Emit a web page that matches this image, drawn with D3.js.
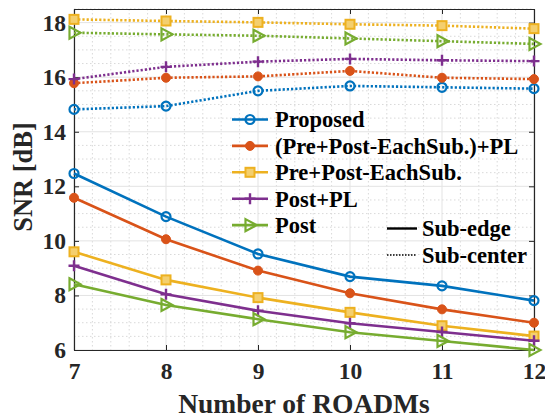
<!DOCTYPE html>
<html>
<head>
<meta charset="utf-8">
<script src="https://cdn.jsdelivr.net/npm/d3@7/dist/d3.min.js"></script>
<style>
  body { margin: 0; background: #fff; }
  svg { display: block; font-family: "Liberation Serif", "Times New Roman", serif; font-weight: bold; }
</style>
</head>
<body>
<svg id="chart"></svg>
<script>
// number of ROADMs
const roadms = [7, 8, 9, 10, 11, 12];
const xTicks = [7, 8, 9, 10, 11, 12];
const yTicks = [6, 8, 10, 12, 14, 16, 18];

const seriesNames = ["Proposed", "(Pre+Post-EachSub.)+PL", "Pre+Post-EachSub.", "Post+PL", "Post"];

// Sub-edge (solid)
const edgeProposed = [12.47, 10.89, 9.52, 8.69, 8.35, 7.81];
const edgePrePostPL = [11.58, 10.06, 8.91, 8.08, 7.49, 7.00];
const edgePrePost = [9.60, 8.57, 7.92, 7.38, 6.89, 6.51];
const edgePostPL = [9.09, 8.04, 7.44, 6.98, 6.66, 6.34];
const edgePost = [8.41, 7.65, 7.13, 6.65, 6.33, 6.00];

// Sub-center (dotted)
const centerProposed = [14.82, 14.94, 15.50, 15.68, 15.63, 15.58];
const centerPrePostPL = [15.78, 15.98, 16.03, 16.23, 15.98, 15.93];
const centerPrePost = [18.12, 18.06, 18.01, 17.94, 17.89, 17.78];
const centerPostPL = [15.93, 16.38, 16.57, 16.67, 16.62, 16.59];
const centerPost = [17.63, 17.57, 17.52, 17.42, 17.32, 17.22];

const colors = ["#0072BD", "#D95319", "#EDB120", "#7E2F8E", "#77AC30"];
const markers = ["circle", "dot", "square", "plus", "triangle"];

const svgWidth = 545, svgHeight = 419;
const margin = { top: 9, right: 11, bottom: 69, left: 74 };
const width = svgWidth - margin.left - margin.right;
const height = svgHeight - margin.top - margin.bottom;

const svg = d3.select("#chart").attr("width", svgWidth).attr("height", svgHeight);
const g = svg.append("g").attr("transform", "translate(" + margin.left + "," + margin.top + ")");

const x = d3.scaleLinear().domain([7, 12]).range([0, width]);
const y = d3.scaleLinear().domain([6, 18.5]).range([height, 0]);

// minor grid
const xMinor = d3.range(7, 12.001, 0.2).filter(v => Math.abs(v - Math.round(v)) > 1e-6);
const yMinor = d3.range(6, 18.501, 0.5).filter(v => Math.abs(v / 2 - Math.round(v / 2)) > 1e-6);
g.append("g").selectAll("line").data(xMinor).join("line")
  .attr("x1", d => x(d)).attr("x2", d => x(d)).attr("y1", 0).attr("y2", height)
  .attr("stroke", "#d9d9d9").attr("stroke-width", 1).attr("stroke-dasharray", "1.5 2.5");
g.append("g").selectAll("line").data(yMinor).join("line")
  .attr("y1", d => y(d)).attr("y2", d => y(d)).attr("x1", 0).attr("x2", width)
  .attr("stroke", "#d9d9d9").attr("stroke-width", 1).attr("stroke-dasharray", "1.5 2.5");
// major grid
g.append("g").selectAll("line").data(xTicks).join("line")
  .attr("x1", d => x(d)).attr("x2", d => x(d)).attr("y1", 0).attr("y2", height)
  .attr("stroke", "#e3e3e3").attr("stroke-width", 1);
g.append("g").selectAll("line").data(yTicks).join("line")
  .attr("y1", d => y(d)).attr("y2", d => y(d)).attr("x1", 0).attr("x2", width)
  .attr("stroke", "#e3e3e3").attr("stroke-width", 1);

// axes, ticks pointing inward
function styleAxis(sel) {
  sel.select(".domain").attr("stroke", "#262626").attr("stroke-width", 1.2);
  sel.selectAll(".tick line").attr("stroke", "#262626");
  sel.selectAll(".tick text").attr("fill", "#262626")
    .style("font-family", "Liberation Serif, Times New Roman, serif")
    .style("font-weight", "bold").style("font-size", "23.5px");
}
g.append("g").attr("transform", "translate(0," + height + ")")
  .call(d3.axisBottom(x).tickValues(xTicks).tickFormat(d3.format("d")).tickSizeInner(-5).tickSizeOuter(0).tickPadding(12))
  .call(styleAxis);
g.append("g")
  .call(d3.axisLeft(y).tickValues(yTicks).tickFormat(d3.format("d")).tickSizeInner(-5).tickSizeOuter(0).tickPadding(8))
  .call(styleAxis);
g.append("g")
  .call(d3.axisTop(x).tickValues(xTicks).tickFormat("").tickSizeInner(-5).tickSizeOuter(0))
  .call(styleAxis);
g.append("g").attr("transform", "translate(" + width + ",0)")
  .call(d3.axisRight(y).tickValues(yTicks).tickFormat("").tickSizeInner(-5).tickSizeOuter(0))
  .call(styleAxis);

// axis labels
svg.append("text")
  .attr("x", 304).attr("y", 413)
  .attr("text-anchor", "middle").attr("fill", "#262626")
  .style("font-size", "27.5px").text("Number of ROADMs");
svg.append("text")
  .attr("transform", "translate(32,177) rotate(-90)")
  .attr("text-anchor", "middle").attr("fill", "#262626")
  .style("font-size", "26.5px").text("SNR [dB]");

// markers
function drawMarker(sel, type, color) {
  if (type === "circle") {
    sel.append("circle").attr("r", 4.5).attr("fill", "none").attr("stroke", color).attr("stroke-width", 2.2);
  } else if (type === "dot") {
    sel.append("circle").attr("r", 4.5).attr("fill", color).attr("stroke", color).attr("stroke-width", 1);
  } else if (type === "square") {
    sel.append("rect").attr("x", -4.5).attr("y", -4.5).attr("width", 9).attr("height", 9)
      .attr("fill", "#f4cf6e").attr("stroke", color).attr("stroke-width", 2);
  } else if (type === "plus") {
    sel.append("path").attr("d", "M-5.5,0H5.5M0,-5.5V5.5").attr("stroke", color).attr("stroke-width", 2.4);
  } else if (type === "triangle") {
    sel.append("path").attr("d", "M-4.5,-6L6.5,0L-4.5,6Z").attr("fill", "none")
      .attr("stroke", color).attr("stroke-width", 2.2);
  }
}

const line = d3.line().x((d, i) => x(roadms[i])).y(d => y(d));

const edgeSeries = [edgeProposed, edgePrePostPL, edgePrePost, edgePostPL, edgePost];
const centerSeries = [centerProposed, centerPrePostPL, centerPrePost, centerPostPL, centerPost];

function drawSeries(values, i, dashed) {
  const s = g.append("g");
  s.append("path").datum(values)
    .attr("fill", "none").attr("stroke", colors[i])
    .attr("stroke-width", 2.6)
    .attr("stroke-dasharray", dashed ? "2.2 2" : null)
    .attr("d", line);
  s.selectAll("g.m").data(values).join("g").attr("class", "m")
    .attr("transform", (d, j) => "translate(" + x(roadms[j]) + "," + y(d) + ")")
    .each(function () { drawMarker(d3.select(this), markers[i], colors[i]); });
}
centerSeries.forEach((v, i) => drawSeries(v, i, true));
edgeSeries.forEach((v, i) => drawSeries(v, i, false));

// legend: methods
const leg = svg.append("g");
seriesNames.forEach((name, i) => {
  const cy = 119.5 + i * 26.4;
  const row = leg.append("g");
  row.append("line").attr("x1", 232).attr("x2", 268).attr("y1", cy).attr("y2", cy)
    .attr("stroke", colors[i]).attr("stroke-width", 2.6);
  drawMarker(row.append("g").attr("transform", "translate(250," + cy + ")"), markers[i], colors[i]);
  row.append("text").attr("x", 275).attr("y", cy).attr("dy", "0.35em")
    .attr("fill", "#000").style("font-size", "22.5px").text(name);
});

// legend: line styles
const styles = [["Sub-edge", null], ["Sub-center", "1.5 1.5"]];
styles.forEach((s, i) => {
  const cy = 228.5 + i * 26.5;
  leg.append("line").attr("x1", 387).attr("x2", 417).attr("y1", cy).attr("y2", cy)
    .attr("stroke", "#000").attr("stroke-width", s[1] ? 1.6 : 2.4).attr("stroke-dasharray", s[1]);
  leg.append("text").attr("x", 422).attr("y", cy).attr("dy", "0.35em")
    .attr("fill", "#000").style("font-size", "22.5px").text(s[0]);
});
</script>
</body>
</html>
